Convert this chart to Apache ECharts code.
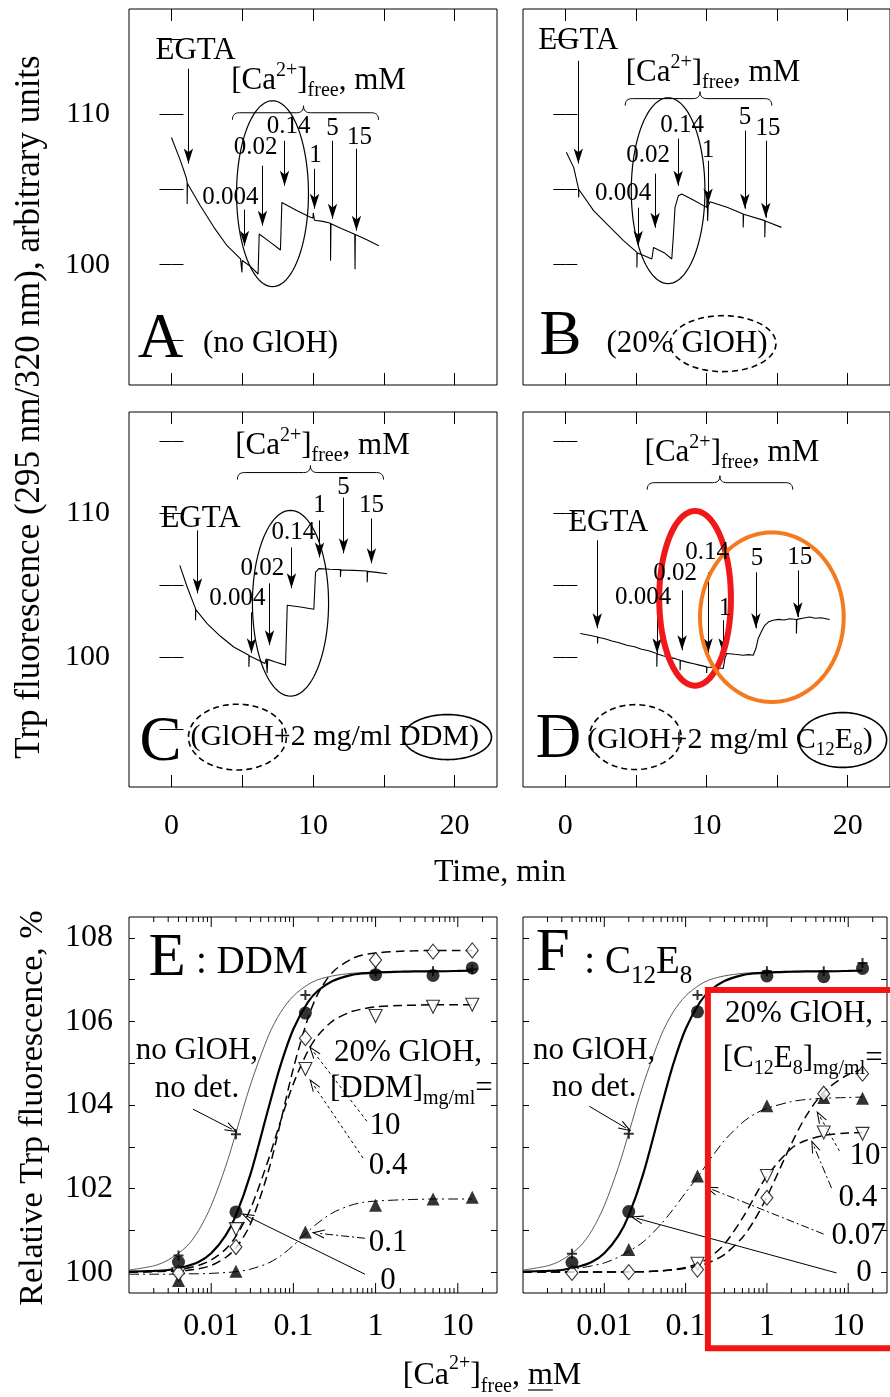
<!DOCTYPE html>
<html>
<head>
<meta charset="utf-8">
<script src="https://cdn.jsdelivr.net/npm/echarts@6.0.0/dist/echarts.min.js"></script>
<style>
  html, body { margin: 0; padding: 0; background: #fff; }
  #chart { width: 890px; height: 1397px; }
</style>
</head>
<body>
<div id="chart"></div>
<script>
const SERIF = '"Liberation Serif", "Times New Roman", serif';

// ---- Panels A-D: Trp fluorescence time courses, [time (min), signal] ----
const TRACE_A = [[0,108.46],[0.64,106.9],[1.04,105.8],[1.11,105.47],[1.11,104.03],[1.13,105.4],[2.05,103.9],[2.99,102.5],[3.93,101.26],[4.88,100.38],[4.98,100.3],[4.98,99.49],[5.0,100.28],[5.5,99.95],[6.12,99.38],[6.2,102.04],[6.9,101.55],[7.7,100.98],[7.8,104.14],[8.88,103.59],[9.82,103.15],[10.0,103.1],[10.02,103.45],[10.1,102.95],[10.7,102.88],[11.24,102.75],[11.24,100.27],[11.27,102.72],[12.0,102.4],[12.95,102.02],[12.97,99.7],[12.99,102.0],[13.8,101.65],[14.65,101.26]];
const TRACE_B = [[0.07,107.47],[0.59,106.47],[0.94,105.03],[0.94,104.47],[0.96,105.0],[2.0,103.59],[3.18,102.48],[4.12,101.6],[5.07,100.82],[5.07,99.82],[5.09,100.8],[6.13,100.38],[6.25,101.15],[7.0,100.8],[7.54,100.38],[7.66,102.04],[7.77,103.81],[8.01,104.59],[8.24,104.7],[9.1,104.28],[10.01,103.81],[10.05,104.7],[10.08,102.9],[10.12,103.9],[10.25,104.19],[11.5,103.8],[12.6,103.37],[12.6,102.48],[12.63,103.35],[14.13,102.93],[14.13,101.82],[14.16,102.9],[15.31,102.48]];
const TRACE_C = [[0.59,106.37],[1.11,104.87],[1.7,103.37],[1.7,102.56],[1.72,103.3],[2.52,102.33],[3.46,101.45],[4.4,100.71],[5.47,100.14],[5.47,99.33],[5.5,100.1],[6.6,99.56],[6.7,99.9],[6.76,98.9],[6.8,99.85],[7.4,99.65],[8.06,99.45],[8.18,103.6],[9.12,103.48],[10.06,103.32],[10.18,105.9],[10.41,106.14],[11.2,106.1],[11.94,106.07],[11.94,105.56],[11.97,106.05],[12.88,106.02],[13.83,105.98],[13.83,105.2],[13.86,105.95],[14.5,105.88],[15.24,105.79]];
const TRACE_D = [[1.06,101.64],[1.7,101.52],[2.28,101.4],[2.28,100.95],[2.3,101.38],[2.8,101.28],[3.3,101.12],[3.8,101.0],[4.36,100.83],[4.9,100.72],[5.4,100.55],[5.9,100.45],[6.48,100.26],[6.48,99.33],[6.5,100.24],[6.9,100.1],[7.3,100.02],[7.7,99.92],[8.13,99.79],[8.13,99.1],[8.15,99.78],[8.6,99.66],[9.1,99.55],[9.5,99.45],[10.01,99.33],[10.01,98.9],[10.03,99.32],[10.6,99.28],[11.19,99.22],[11.3,99.9],[11.43,100.26],[12.0,100.2],[12.6,100.14],[13.0,100.18],[13.31,100.14],[13.5,100.6],[13.66,101.29],[13.9,101.8],[14.13,102.21],[14.4,102.45],[14.72,102.56],[15.1,102.62],[15.5,102.58],[15.9,102.66],[16.37,102.61],[16.37,101.64],[16.4,102.62],[16.9,102.72],[17.31,102.79],[17.7,102.7],[18.1,102.74],[18.73,102.61]];

// ---- Panels E-F: relative Trp fluorescence vs [Ca2+]free (mM) ----
const CA_FREE = [0.004, 0.02, 0.14, 1, 5, 15];
const E_NO_GLOH  = [100.4, 103.3, 106.63, 107.2, 107.2, 107.25];
const E_DDM_0    = [100.24, 101.44, 106.2, 107.12, 107.1, 107.28];
const E_DDM_10   = [99.98, 100.6, 105.6, 107.47, 107.67, 107.7];
const E_DDM_04   = [99.95, 101.03, 104.86, 106.13, 106.35, 106.4];
const E_DDM_01   = [99.8, 100.02, 100.96, 101.6, 101.75, 101.79];
const F_NO_GLOH  = [100.44, 103.31, 106.63, 107.2, 107.2, 107.4];
const F_C12_0    = [100.23, 101.45, 106.23, 107.09, 107.07, 107.27];
const F_C12_007  = [null, 100.54, 102.3, 103.98, 104.18, 104.16];
const F_C12_10   = [99.98, 100.0, 100.06, 101.78, 104.27, 104.75];
const F_C12_04   = [null, null, 100.2, 102.3, 103.34, 103.31];

// fitted binding curves, sampled along the calcium axis
const CURVE_CA    = [0.001,0.002,0.003,0.005,0.007,0.01,0.015,0.02,0.03,0.05,0.07,0.1,0.15,0.2,0.3,0.5,0.7,1,2,3,5,10,15];
const FIT_NO_GLOH = [100.05,100.15,100.29,100.61,100.99,101.59,102.53,103.33,104.48,105.67,106.22,106.61,106.88,107.0,107.09,107.15,107.17,107.18,107.2,107.2,107.2,107.2,107.2];
const FIT_DET_0   = [100.01,100.03,100.05,100.14,100.24,100.45,100.88,101.36,102.34,103.94,104.96,105.82,106.46,106.74,106.97,107.11,107.15,107.17,107.19,107.2,107.2,107.21,107.22];
const FIT_E_DDM_10 = [100.0,100.01,100.02,100.04,100.08,100.16,100.35,100.58,101.15,102.44,103.6,104.88,106.07,106.67,107.18,107.49,107.59,107.64,107.68,107.69,107.7,107.7,107.7];
const FIT_E_DDM_04 = [100.0,100.02,100.04,100.09,100.16,100.29,100.55,100.86,101.51,102.71,103.62,104.51,105.29,105.67,106.01,106.23,106.3,106.35,106.38,106.39,106.4,106.4,106.4];
const FIT_E_DDM_01 = [99.95,99.95,99.95,99.96,99.96,99.97,99.99,100.01,100.07,100.22,100.39,100.64,100.97,101.18,101.42,101.6,101.67,101.7,101.73,101.74,101.75,101.75,101.75];
const FIT_F_C12_007 = [100.01,100.03,100.05,100.1,100.15,100.22,100.36,100.5,100.72,101.15,101.5,101.9,102.35,102.7,103.15,103.58,103.78,103.92,104.08,104.13,104.16,104.18,104.19];
const FIT_F_C12_10  = [100.0,100.0,100.0,100.0,100.0,100.0,100.0,100.01,100.01,100.03,100.05,100.09,100.16,100.24,100.42,100.83,101.24,101.8,103.07,103.72,104.31,104.73,104.85];
const FIT_F_C12_04  = [100.0,100.0,100.0,100.0,100.0,100.0,100.0,100.01,100.01,100.03,100.06,100.11,100.22,100.36,100.67,101.29,101.79,102.3,102.96,103.15,103.27,103.33,103.34];

// ---- axis ticks and labels ----
const TIME_TICKS = [0, 5, 10, 15, 20];
const TIME_LABELS = [0, 10, 20];
const TRACE_Y_TICKS = [95, 100, 105, 110, 115];
const TRACE_Y_LABELS = [100, 110];
const REL_Y_TICKS = [100, 101, 102, 103, 104, 105, 106, 107, 108];
const REL_Y_LABELS = [100, 102, 104, 106, 108];
const LOG_LABELS = [0.01, 0.1, 1, 10];
const LOG_DECADES = [0.001, 0.01, 0.1, 1, 10];
const LOG_MULTIPLES = [2, 3, 4, 5, 6, 7, 8, 9];

const GRIDS = [
  { left: 129, top: 9,   width: 368, height: 376 },
  { left: 523, top: 9,   width: 368, height: 376 },
  { left: 129, top: 412, width: 368, height: 375 },
  { left: 523, top: 412, width: 368, height: 375 },
  { left: 129, top: 917, width: 368, height: 376 },
  { left: 523, top: 917, width: 368, height: 376 }
];
const Y_RANGE = [[92, 117], [92, 117], [91, 117], [91, 117], [99.5, 108.5], [99.5, 108.5]];
const X_RANGE_TIME = [-3, 23];
const X_RANGE_CA = [0.001, 30];

const pairs = (xs, ys) => xs.map((x, i) => [x, ys[i]]).filter(p => p[1] != null);

function logLabel(v) {
  const hit = LOG_LABELS.find(c => Math.abs(Math.log10(v / c)) < 1e-6);
  return hit === undefined ? '' : String(hit);
}

const chart = echarts.init(document.getElementById('chart'), null, { renderer: 'canvas' });

// ---- axes: bottom/top x and left/right y for each panel, ticks pointing inward ----
const xAxes = [], yAxes = [];
const inTick = (len, values) => ({ show: true, inside: true, length: len, customValues: values, lineStyle: { color: '#000', width: 1 } });
for (let g = 0; g < 6; g++) {
  const isCa = g >= 4;
  ['bottom', 'top'].forEach(pos => {
    if (!isCa) {
      xAxes.push({
        gridIndex: g, type: 'value', position: pos, min: X_RANGE_TIME[0], max: X_RANGE_TIME[1],
        axisLine: { show: false }, splitLine: { show: false },
        axisTick: inTick(12, TIME_TICKS),
        axisLabel: { show: pos === 'bottom' && g >= 2, customValues: TIME_LABELS, margin: 24,
                     color: '#000', fontFamily: SERIF, fontSize: 30 }
      });
    } else {
      xAxes.push({
        gridIndex: g, type: 'log', logBase: 10, position: pos, min: X_RANGE_CA[0], max: X_RANGE_CA[1],
        axisLine: { show: false }, splitLine: { show: false }, axisTick: { show: false },
        axisLabel: { show: pos === 'bottom', margin: 18, color: '#000', fontFamily: SERIF, fontSize: 32, formatter: logLabel }
      });
    }
  });
  ['left', 'right'].forEach(pos => {
    const showLabels = pos === 'left' && (g === 0 || g === 2 || g === 4);
    yAxes.push({
      gridIndex: g, type: 'value', position: pos, min: Y_RANGE[g][0], max: Y_RANGE[g][1],
      axisLine: { show: false }, splitLine: { show: false },
      axisTick: isCa ? inTick(6, REL_Y_TICKS) : inTick(12, TRACE_Y_TICKS),
      axisLabel: { show: showLabels, customValues: isCa ? REL_Y_LABELS : TRACE_Y_LABELS,
                   margin: isCa ? 16 : 19, color: '#000', fontFamily: SERIF, fontSize: isCa ? 32 : 30 }
    });
  });
}

// ---- arrows marking additions ----
const OPEN_ARROW = 'path://M5,0 L10,12 L8.8,12 L5,3 L1.2,12 L0,12 Z';

function timeArrows(list) {
  return {
    silent: true, animation: false, symbol: ['none', 'arrow'], symbolSize: [7, 15],
    label: { show: false }, emphasis: { disabled: true }, itemStyle: { color: '#000' },
    lineStyle: { color: '#000', width: 1, type: 'solid' },
    data: list.map(a => [{ coord: [a[0], a[1]] }, { coord: [a[0], a[2]] }])
  };
}
function caArrows(list) {
  return {
    silent: true, animation: false, symbol: ['none', OPEN_ARROW], symbolSize: [9, 13],
    label: { show: false }, emphasis: { disabled: true }, itemStyle: { color: '#000' },
    lineStyle: { color: '#000', width: 1, type: 'solid' },
    data: list.map(a => [{ coord: a.from, lineStyle: { color: '#000', width: 1, type: a.type } }, { coord: a.to }])
  };
}

const ARROWS_A = [[1.2,113.03,106.72],[5.16,103.66,101.26],[6.43,106.58,102.59],[7.99,108.24,105.25],[10.11,106.38,103.72],[11.38,108.24,103.06],[13.07,107.71,102.26]];
const ARROWS_B = [[0.92,113.56,106.72],[5.16,103.79,101.26],[6.36,106.05,102.46],[7.99,108.38,105.25],[10.11,106.91,104.06],[12.72,108.91,103.72],[14.2,108.24,103.12]];
const ARROWS_C = [[1.84,108.79,104.43],[5.65,103.11,100.28],[6.93,105.12,100.83],[8.48,107.61,104.78],[10.46,109.48,106.92],[12.16,111.07,107.2],[14.13,109.62,106.51]];
const ARROWS_D = [[2.26,108.1,102.0],[6.5,103.46,100.28],[8.27,104.64,100.48],[10.11,105.88,100.28],[11.17,102.56,100.28],[13.5,105.88,102.0],[16.47,106.02,102.77]];

const DOTTED = [3, 3];
const DASH_DOT = [8, 3, 2, 3];
const ARROWS_E = [
  { from: [0.00601, 103.9], to: [0.0179, 103.42], type: 'solid' },
  { from: [0.785, 103.61], to: [0.173, 105.29], type: DOTTED },
  { from: [0.703, 102.73], to: [0.173, 104.5], type: DOTTED },
  { from: [0.743, 100.81], to: [0.199, 100.93], type: DASH_DOT },
  { from: [0.743, 99.95], to: [0.0272, 101.34], type: 'solid' }
];
const ARROWS_F = [
  { from: [0.00653, 103.97], to: [0.0184, 103.45], type: 'solid' },
  { from: [7.8, 102.9], to: [4.46, 103.73], type: DOTTED },
  { from: [6.24, 102.01], to: [3.77, 103.02], type: DASH_DOT },
  { from: [4.99, 100.91], to: [0.205, 101.99], type: DASH_DOT },
  { from: [7.18, 99.98], to: [0.0249, 101.29], type: 'solid' }
];

// ---- series ----
const series = [];
function trace(g, data, arrows) {
  series.push({
    type: 'line', xAxisIndex: 2 * g, yAxisIndex: 2 * g, data, showSymbol: false, symbol: 'none',
    lineStyle: { color: '#000', width: 1.1 }, itemStyle: { color: '#000' }, silent: true, animation: false, z: 3,
    markLine: timeArrows(arrows)
  });
}
trace(0, TRACE_A, ARROWS_A);
trace(1, TRACE_B, ARROWS_B);
trace(2, TRACE_C, ARROWS_C);
trace(3, TRACE_D, ARROWS_D);

const STYLE_THIN = { color: '#5a5a5a', width: 1 };
const STYLE_THICK = { color: '#000', width: 2.2 };
const STYLE_DASH = { color: '#000', width: 1.5, type: [9, 5] };
const STYLE_DASHDOT = { color: '#000', width: 1, type: [10, 4, 2, 4] };

function curve(g, ys, style, extra) {
  series.push(Object.assign({
    type: 'line', xAxisIndex: 2 * g, yAxisIndex: 2 * g, data: pairs(CURVE_CA, ys),
    showSymbol: false, symbol: 'none', smooth: 0.3, lineStyle: style, itemStyle: { color: '#000' },
    silent: true, animation: false, z: 2
  }, extra || {}));
}
const PLUS = 'path://M4,0H6V4H10V6H6V10H4V6H0V4H4Z';
function points(g, ys, symbol, size, filled, rotate) {
  series.push({
    type: 'scatter', xAxisIndex: 2 * g, yAxisIndex: 2 * g, data: pairs(CA_FREE, ys),
    symbol, symbolSize: size, symbolRotate: rotate || 0, silent: true, animation: false, z: 5,
    itemStyle: filled ? { color: '#000' } : { color: '#fff', borderColor: '#000', borderWidth: 1.1 }
  });
}

curve(4, FIT_NO_GLOH, STYLE_THIN, { markLine: caArrows(ARROWS_E) });
curve(4, FIT_DET_0, STYLE_THICK);
curve(4, FIT_E_DDM_10, STYLE_DASH);
curve(4, FIT_E_DDM_04, STYLE_DASH);
curve(4, FIT_E_DDM_01, STYLE_DASHDOT);
points(4, E_NO_GLOH, PLUS, 10, true);
points(4, E_DDM_01, 'triangle', 13, true);
points(4, E_DDM_04, 'triangle', 13, false, 180);
points(4, E_DDM_10, 'diamond', [12, 15], false);
points(4, E_DDM_0, 'circle', 13, true);

curve(5, FIT_NO_GLOH, STYLE_THIN, { markLine: caArrows(ARROWS_F) });
curve(5, FIT_DET_0, STYLE_THICK);
curve(5, FIT_F_C12_10, STYLE_DASH);
curve(5, FIT_F_C12_04, STYLE_DASH);
curve(5, FIT_F_C12_007, STYLE_DASHDOT);
points(5, F_NO_GLOH, PLUS, 10, true);
points(5, F_C12_007, 'triangle', 13, true);
points(5, F_C12_04, 'triangle', 13, false, 180);
points(5, F_C12_10, 'diamond', [12, 15], false);
points(5, F_C12_0, 'circle', 13, true);

// minor/major ticks of the logarithmic calcium axes (bottom and top edges)
const LOG_TICKS = [];
LOG_DECADES.forEach(d => {
  if (d > 0.001) LOG_TICKS.push([d, 1]);
  LOG_MULTIPLES.forEach(m => { const v = +(d * m).toPrecision(3); if (v < 30) LOG_TICKS.push([v, 0]); });
});
[4, 5].forEach(g => {
  series.push({
    type: 'custom', coordinateSystem: 'cartesian2d', xAxisIndex: 2 * g, yAxisIndex: 2 * g,
    data: LOG_TICKS.map(t => [t[0], Y_RANGE[g][0], t[1]]), encode: { x: 0, y: 1 },
    silent: true, animation: false, clip: false, z: 4,
    renderItem: (params, api) => {
      const v = api.value(0), major = api.value(2);
      const b = api.coord([v, Y_RANGE[g][0]]), t = api.coord([v, Y_RANGE[g][1]]);
      const len = major ? 10 : 5;
      return { type: 'group', children: [
        { type: 'line', shape: { x1: b[0], y1: b[1], x2: b[0], y2: b[1] - len }, style: { stroke: '#000', lineWidth: 1 } },
        { type: 'line', shape: { x1: t[0], y1: t[1], x2: t[0], y2: t[1] + len }, style: { stroke: '#000', lineWidth: 1 } }
      ] };
    }
  });
});

chart.setOption({
  animation: false,
  backgroundColor: '#fff',
  grid: GRIDS.map(g => Object.assign({ show: true, borderColor: '#000', borderWidth: 1, backgroundColor: 'transparent', containLabel: false }, g)),
  xAxis: xAxes,
  yAxis: yAxes,
  series
});

// ---- annotations: labels, braces, rings ----
const px = (g, p) => chart.convertToPixel({ xAxisIndex: 2 * g, yAxisIndex: 2 * g }, p);
function rich(size) {
  const s = Math.round(size * 0.64);
  return {
    sup: { fontSize: s, fontFamily: SERIF, fill: '#000', verticalAlign: 'top', lineHeight: s },
    sub: { fontSize: s, fontFamily: SERIF, fill: '#000', verticalAlign: 'bottom', lineHeight: s }
  };
}
const graphics = [];
function text(x, y, str, size, align, extra) {
  graphics.push(Object.assign({
    type: 'text', x, y, silent: true, z: 20,
    style: { text: str, fill: '#000', fontSize: size, fontFamily: SERIF, align: align || 'center',
             verticalAlign: 'middle', lineHeight: Math.round(size * 1.3), rich: rich(size) }
  }, extra || {}));
}
function note(g, p, str, size, align) { const q = px(g, p); text(q[0], q[1], str, size, align); }
function ring(g, c, r, style) {
  const p0 = px(g, c), p1 = px(g, [c[0] + r[0], c[1] + r[1]]);
  const rx = Math.abs(p1[0] - p0[0]), ry = Math.abs(p1[1] - p0[1]);
  const pts = [];
  for (let i = 0; i < 96; i++) {
    const a = (i / 96) * Math.PI * 2;
    pts.push([p0[0] + rx * Math.cos(a), p0[1] + ry * Math.sin(a)]);
  }
  graphics.push({
    type: 'polygon', silent: true, z: 15, shape: { points: pts },
    style: Object.assign({ fill: 'none', stroke: '#000', lineWidth: 1.2 }, style || {})
  });
}
function quad(out, p0, c, p1) {
  for (let i = 1; i <= 8; i++) {
    const t = i / 8, u = 1 - t;
    out.push([u * u * p0[0] + 2 * u * t * c[0] + t * t * p1[0], u * u * p0[1] + 2 * u * t * c[1] + t * t * p1[1]]);
  }
}
function brace(g, t1, t2, tm, v) {
  const a = px(g, [t1, v]), b = px(g, [t2, v]), m = px(g, [tm, v]);
  const y = a[1], h = 7;
  const pts = [[a[0], y + h]];
  quad(pts, [a[0], y + h], [a[0], y], [a[0] + h, y]);
  pts.push([m[0] - h, y]);
  quad(pts, [m[0] - h, y], [m[0], y], [m[0], y - h]);
  quad(pts, [m[0], y - h], [m[0], y], [m[0] + h, y]);
  pts.push([b[0] - h, y]);
  quad(pts, [b[0] - h, y], [b[0], y], [b[0], y + h]);
  graphics.push({ type: 'polyline', silent: true, z: 15, shape: { points: pts }, style: { fill: 'none', stroke: '#000', lineWidth: 1 } });
}

const CA_TITLE = '[Ca{sup|2+}]{sub|free}, mM';
const TIME_NOTES = [
  { g: 0, letter: 'A', egta: [1.7, 114.23], title: [10.39, 112.23], brace: [4.31, 14.63, 9.33, 110.1],
    doses: [['0.004', 4.17, 104.45], ['0.02', 5.94, 107.78], ['0.14', 8.27, 109.18], ['1', 10.18, 107.25], ['5', 11.38, 109.04], ['15', 13.29, 108.44]],
    letterAt: [-0.78, 94.95], ring: [[7.14, 104.72], [2.54, 6.18]] },
  { g: 1, letter: 'B', egta: [0.92, 114.89], title: [10.46, 112.77], brace: [4.24, 14.63, 9.54, 111.04],
    doses: [['0.004', 4.1, 104.72], ['0.02', 5.87, 107.25], ['0.14', 8.27, 109.24], ['1', 10.11, 107.58], ['5', 12.72, 109.77], ['15', 14.35, 109.04]],
    letterAt: [-0.35, 95.15], ring: [[7.28, 104.92], [2.61, 6.18]] },
  { g: 2, letter: 'C', egta: [2.05, 109.62], title: [10.67, 114.67], brace: [4.66, 14.98, 9.82, 112.8],
    doses: [['0.004', 4.66, 104.08], ['0.02', 6.43, 106.16], ['0.14', 8.62, 108.65], ['1', 10.46, 110.52], ['5', 12.16, 111.76], ['15', 14.13, 110.52]],
    letterAt: [-0.78, 94.05], ring: [[8.41, 103.74], [2.69, 6.44]] },
  { g: 3, letter: 'D', egta: [3.04, 109.34], title: [11.8, 114.19], brace: [5.8, 16.11, 10.95, 112.1],
    doses: [['0.004', 5.51, 104.15], ['0.02', 7.77, 105.81], ['0.14', 10.04, 107.27], ['1', 11.31, 103.39], ['5', 13.57, 106.85], ['15', 16.61, 106.92]],
    letterAt: [-0.49, 94.26], ring: null }
];
TIME_NOTES.forEach(n => {
  note(n.g, n.egta, 'EGTA', 31);
  note(n.g, n.title, CA_TITLE, 31);
  brace(n.g, n.brace[0], n.brace[1], n.brace[2], n.brace[3]);
  n.doses.forEach(d => note(n.g, [d[1], d[2]], d[0], 25));
  note(n.g, n.letterAt, n.letter, 63);
  if (n.ring) ring(n.g, n.ring[0], n.ring[1]);
});
note(0, [7.0, 94.75], '(no GlOH)', 31);
note(1, [8.62, 94.75], '(20% GlOH)', 31);
ring(1, [11.17, 94.75], [3.75, 1.86], { lineDash: [6, 4], lineWidth: 1.6 });
note(2, [1.34, 94.46], '(GlOH+2 mg/ml DDM)', 30, 'left');
ring(2, [4.66, 94.46], [3.46, 2.28], { lineDash: [6, 4], lineWidth: 1.6 });
ring(2, [19.5, 94.46], [3.11, 1.56], { lineWidth: 1.6 });
note(3, [1.55, 94.26], '(GlOH+2 mg/ml C{sub|12}E{sub|8})', 30, 'left');
ring(3, [4.95, 94.46], [3.25, 2.25], { lineDash: [6, 4], lineWidth: 1.6 });
ring(3, [19.65, 94.26], [3.11, 1.9], { lineWidth: 1.6 });
ring(3, [9.19, 104.08], [2.54, 6.06], { stroke: '#f01818', lineWidth: 6 });
ring(3, [14.63, 102.77], [5.09, 5.88], { stroke: '#f47a1f', lineWidth: 4 });

// panel E labels
note(4, [0.0029, 107.49], 'E', 61);
note(4, [0.00653, 107.4], ': DDM', 39, 'left');
note(4, [0.00671, 105.29], 'no GlOH,', 31);
note(4, [0.00671, 104.38], 'no det.', 31);
note(4, [2.48, 105.24], '20% GlOH,', 31);
note(4, [0.279, 104.38], '[DDM]{sub|mg/ml}=', 31, 'left');
note(4, [1.3, 103.49], '10', 31);
note(4, [1.42, 102.54], '0.4', 31);
note(4, [1.42, 100.69], '0.1', 31);
note(4, [1.42, 99.78], '0', 31);

// panel F labels
note(5, [0.00232, 107.61], 'F', 61);
note(5, [0.00568, 107.4], ': C{sub|12}E{sub|8}', 39, 'left');
note(5, [0.00751, 105.29], 'no GlOH,', 31);
note(5, [0.00751, 104.4], 'no det.', 31);
note(5, [2.48, 106.18], '20% GlOH,', 31);
note(5, [0.286, 105.1], '[C{sub|12}E{sub|8}]{sub|mg/ml}=', 31, 'left');
note(5, [10.35, 102.78], '10', 31, 'left');
note(5, [7.6, 101.77], '0.4', 31, 'left');
note(5, [6.25, 100.86], '0.07', 31, 'left');
note(5, [12.6, 99.98], '0', 31, 'left');

// highlighted region of panel F
(function () {
  const a = px(5, [0.188, 106.75]), b = px(5, [60, 98.18]);
  graphics.push({ type: 'rect', silent: true, z: 25,
    shape: { x: a[0], y: a[1], width: b[0] - a[0], height: b[1] - a[1] },
    style: { fill: 'none', stroke: '#f41414', lineWidth: 6 } });
})();

// axis titles
text(30, 407, 'Trp fluorescence (295 nm/320 nm), arbitrary units', 35, 'center', { rotation: Math.PI / 2 });
text(33, 1108, 'Relative Trp fluorescence, %', 34, 'center', { rotation: Math.PI / 2 });
text(500, 873, 'Time, min', 32);

// calcium axis title, laid out piece by piece so the "m" can be underlined
(function () {
  const ctx = document.createElement('canvas').getContext('2d');
  const pieces = [
    { t: '[Ca', s: 32, dy: 0 }, { t: '2+', s: 20, dy: -12 }, { t: ']', s: 32, dy: 0 },
    { t: 'free', s: 20, dy: 11 }, { t: ', ', s: 32, dy: 0 }, { t: 'm', s: 32, dy: 0, u: true }, { t: 'M', s: 32, dy: 0 }
  ];
  pieces.forEach(p => { ctx.font = `${p.s}px ${SERIF}`; p.w = ctx.measureText(p.t).width; });
  const total = pieces.reduce((s, p) => s + p.w, 0);
  let x = 492 - total / 2;
  const y = 1376;
  pieces.forEach(p => {
    text(x, y + p.dy, p.t, p.s, 'left');
    if (p.u) graphics.push({ type: 'line', silent: true, z: 20,
      shape: { x1: x, y1: y + 14, x2: x + p.w, y2: y + 14 }, style: { stroke: '#000', lineWidth: 1.2 } });
    x += p.w;
  });
})();

chart.setOption({ graphic: { elements: graphics } });
</script>
</body>
</html>
